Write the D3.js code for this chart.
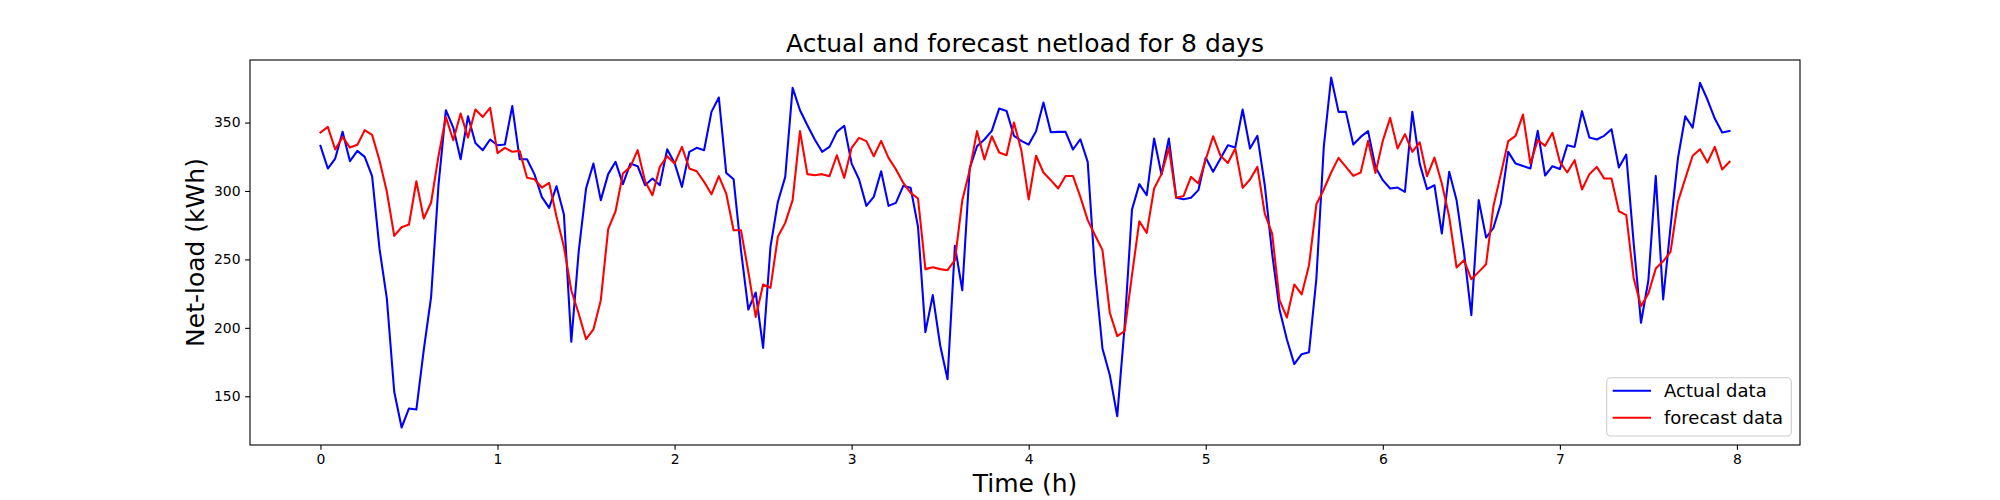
<!DOCTYPE html>
<html>
<head>
<meta charset="utf-8">
<script src="https://cdn.jsdelivr.net/npm/d3@7"></script>
<style>
  html, body { margin: 0; padding: 0; background: #fff; }
  svg { display: block; font-family: "DejaVu Sans", sans-serif; }
</style>
</head>
<body>
<svg id="chart" width="2000" height="500"></svg>
<script>
// ---- data (hourly samples, 8 days) ----
const hoursPerDay = 24;
const actualData = [
  333, 316.4, 323.7, 343.2, 321.8, 329.3, 324.9, 310.8, 258, 221.4, 153.3, 127.2, 141.1, 140.3, 183.7, 222.7, 304.2, 359, 346.3, 323.2, 354.6, 335.1, 329.8, 337.6,
  333.4, 334, 362, 323.2, 323.2, 312.3, 295.7, 287.7, 303.5, 282.8, 189.8, 255.5, 301.8, 320, 293.3, 312.3, 321.3, 305, 320, 318.1, 304.2, 309.1, 304.2, 330.5,
  320.5, 303, 328.6, 331.5, 329.8, 357.8, 368.3, 313.2, 308.6, 256.7, 213.4, 225.8, 185.4, 259.2, 292, 310.3, 375.3, 359, 348, 337.6, 328.6, 332.2, 343.2, 347.6,
  320, 308.6, 289.1, 295.7, 314.4, 289.1, 291.3, 303.7, 302.3, 273.8, 196.9, 223.9, 187.3, 162.5, 259.9, 227.5, 316.4, 332.7, 337.6, 343.9, 360.2, 358.5, 340.3, 336.6,
  333.9, 343.7, 364.6, 342.9, 343.2, 343.2, 330.3, 337.8, 321.3, 239.7, 184.9, 165.4, 135.5, 200.7, 286.4, 305, 296.9, 338.3, 312, 338.3, 295, 294, 295, 300.6,
  324.2, 314, 323.7, 333.4, 331.7, 359.5, 331, 340.3, 304.2, 254.3, 213.4, 191.5, 173.5, 180.8, 182.2, 236.2, 332.2, 382.9, 357.8, 357.8, 333.9, 339.5, 343.7, 317.6,
  307.9, 301.8, 302.5, 299.4, 357.8, 320, 301.3, 304.2, 268.9, 314, 293.3, 255.5, 209.3, 293.3, 266, 273.1, 290.8, 328.6, 320, 318.3, 316.4, 343.9, 311.3, 318.1,
  316, 333.4, 332.2, 358.3, 339, 337.6, 340.3, 345.1, 317.1, 326.6, 262.1, 203.7, 234.8, 311, 220.7, 273.8, 323.7, 354.6, 346.3, 379, 366.8, 352.9, 342.7, 343.9
];
const forecastData = [
  342.7, 346.8, 330.3, 339.5, 331.7, 333.7, 344.4, 341, 322.5, 299.4, 267.2, 273.5, 275.5, 307.1, 279.9, 291.6, 325.4, 354.1, 337.1, 356.6, 339, 359.5, 354.1, 360.7,
  327.6, 331.5, 328.6, 329.3, 309.6, 308.6, 302.5, 305.9, 281.1, 259.2, 227.5, 210.5, 191.7, 198.8, 220.2, 272.1, 285.2, 312.7, 317.6, 329.8, 307.1, 296.9, 317.6, 325.4,
  320, 332.2, 316.4, 314.4, 306.7, 297.6, 310.8, 298.1, 271.3, 271.3, 240.9, 208, 231.7, 229.2, 266.5, 276.7, 293.3, 343.7, 312.3, 311.5, 312.3, 310.8, 326.1, 309.6,
  331.5, 338.8, 336.4, 325.4, 336.6, 324.2, 315.9, 305.9, 298.6, 294.5, 242.9, 244.3, 242.9, 242.1, 249.4, 293.3, 315.2, 343.7, 323, 340, 328.1, 326.1, 350, 329.8,
  293.8, 325.7, 313.5, 307.9, 301.8, 311, 311, 295.7, 278.7, 267.7, 256.8, 211, 194, 197.6, 238.5, 277.9, 269.4, 301.8, 312.3, 331.5, 295, 296.4, 310.3, 305.4,
  323, 340, 325.7, 320.5, 331, 302.3, 308.4, 317.6, 283.5, 268.9, 220.2, 207.5, 231.7, 224.4, 245.8, 290.3, 301.1, 313.5, 324.2, 317.6, 311, 313.5, 336.6, 313.2,
  336.6, 353.4, 331, 341.5, 328.6, 335.6, 310.8, 324.4, 305.4, 281.1, 244.1, 249.4, 235.5, 240.9, 246.5, 289.1, 312.3, 336.4, 340.3, 355.8, 320, 337.1, 333, 342.5,
  321.3, 313.5, 322.5, 301.1, 312.3, 317.6, 309.1, 309.1, 285.2, 282.3, 236.5, 215.8, 225.1, 243.3, 248.6, 255.5, 292, 309.1, 325.7, 330.5, 320.8, 332.2, 315.7, 321.3
];
const xTicks = [0, 1, 2, 3, 4, 5, 6, 7, 8];
const yTicks = [150, 200, 250, 300, 350];
const seriesNames = ["Actual data", "forecast data"];
const seriesColors = ["#0000ff", "#ff0000"];
const titleText = "Actual and forecast netload for 8 days";
const xLabelText = "Time (h)";
const yLabelText = "Net-load (kWh)";

// ---- layout ----
const W = 2000, H = 500;
const plot = { left: 250, right: 1800, top: 60, bottom: 445 };
const svg = d3.select("#chart");

const toSeries = arr => arr.map((v, i) => ({ t: i / hoursPerDay, v }));
const series = [toSeries(actualData), toSeries(forecastData)];

const tMax = (actualData.length - 1) / hoursPerDay;
const xm = tMax * 0.05;
const allV = actualData.concat(forecastData);
const vMin = d3.min(allV), vMax = d3.max(allV);
const ym = (vMax - vMin) * 0.05;

const x = d3.scaleLinear().domain([-xm, tMax + xm]).range([plot.left, plot.right]);
const y = d3.scaleLinear().domain([vMin - ym, vMax + ym]).range([plot.bottom, plot.top]);

// clip
svg.append("defs").append("clipPath").attr("id", "clip")
  .append("rect").attr("x", plot.left).attr("y", plot.top)
  .attr("width", plot.right - plot.left).attr("height", plot.bottom - plot.top);

// lines
const line = d3.line().x(d => x(d.t)).y(d => y(d.v));
series.forEach((s, k) => {
  svg.append("path").datum(s)
    .attr("clip-path", "url(#clip)")
    .attr("fill", "none")
    .attr("stroke", seriesColors[k])
    .attr("stroke-width", 2.08)
    .attr("stroke-linejoin", "round")
    .attr("stroke-linecap", "square")
    .attr("d", line);
});

// axes
const xAxis = d3.axisBottom(x).tickValues(xTicks).tickFormat(d3.format("d"))
  .tickSize(4.86).tickPadding(4.6);
const yAxis = d3.axisLeft(y).tickValues(yTicks).tickFormat(d3.format("d"))
  .tickSize(4.86).tickPadding(4.6);

const gx = svg.append("g").attr("transform", `translate(0,${plot.bottom})`).call(xAxis);
const gy = svg.append("g").attr("transform", `translate(${plot.left},0)`).call(yAxis);
[gx, gy].forEach(g => {
  g.select(".domain").remove();
  g.selectAll(".tick line").attr("stroke", "#000").attr("stroke-width", 1.1);
  g.selectAll(".tick text").attr("fill", "#000").attr("font-size", "13.9px")
    .attr("font-family", "DejaVu Sans, sans-serif");
});

// frame
svg.append("rect")
  .attr("x", plot.left).attr("y", plot.top)
  .attr("width", plot.right - plot.left).attr("height", plot.bottom - plot.top)
  .attr("fill", "none").attr("stroke", "#000").attr("stroke-width", 1.1);

// title & labels
const cx = (plot.left + plot.right) / 2;
svg.append("text").attr("x", cx).attr("y", 51.7)
  .attr("text-anchor", "middle").attr("font-size", "25px").attr("fill", "#000")
  .text(titleText);
svg.append("text").attr("x", cx).attr("y", 492)
  .attr("text-anchor", "middle").attr("font-size", "25px").attr("fill", "#000")
  .text(xLabelText);
svg.append("text")
  .attr("transform", `translate(203.5,${(plot.top + plot.bottom) / 2}) rotate(-90)`)
  .attr("text-anchor", "middle").attr("font-size", "25px").attr("fill", "#000")
  .text(yLabelText);

// legend
const lg = svg.append("g");
lg.append("rect")
  .attr("x", 1606.7).attr("y", 377.7).attr("width", 184.6).attr("height", 58.3)
  .attr("rx", 4).attr("ry", 4)
  .attr("fill", "#fff").attr("fill-opacity", 0.8)
  .attr("stroke", "#cccccc").attr("stroke-width", 1.1);
seriesNames.forEach((name, k) => {
  const ly = 390.7 + k * 27;
  lg.append("line").attr("x1", 1612.7).attr("x2", 1651).attr("y1", ly).attr("y2", ly)
    .attr("stroke", seriesColors[k]).attr("stroke-width", 2.08);
  lg.append("text").attr("x", 1664).attr("y", ly + 6.6)
    .attr("font-size", "18px").attr("fill", "#000").text(name);
});
</script>
</body>
</html>
